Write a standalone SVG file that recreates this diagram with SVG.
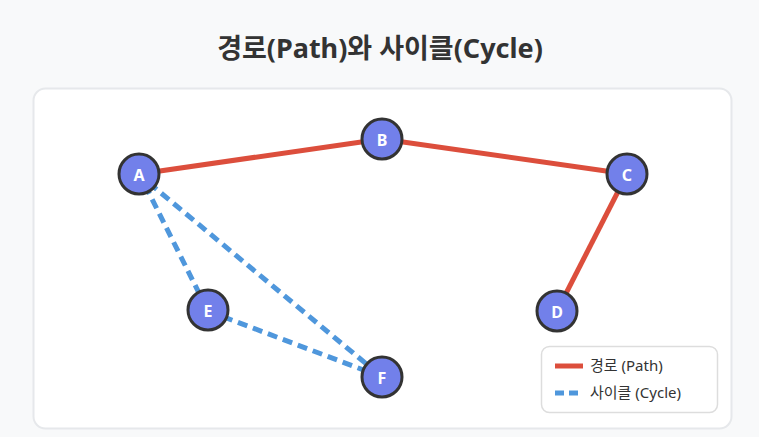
<svg xmlns="http://www.w3.org/2000/svg" width="759" height="437" viewBox="0 0 759 437">
<style>
.path{stroke:#dc4e3c;stroke-width:5;stroke-linecap:butt;fill:none}
.cyc{stroke:#4f97dc;stroke-width:5;stroke-dasharray:10 6;fill:none}
.node circle{fill:#7280ea;stroke:#333;stroke-width:3}
.node text{fill:#fff;font-family:"Noto Sans","Open Sans",sans-serif;font-weight:bold;font-size:16px;text-anchor:middle;dominant-baseline:central}
.lg{font-family:"Noto Sans","Noto Sans CJK KR",sans-serif;font-size:15px;fill:#333}
</style>
<rect width="759" height="437" fill="#f8f9fa"/>
<text x="380" y="58" text-anchor="middle" font-family="'Noto Sans','Noto Sans CJK KR',sans-serif" font-weight="bold" font-size="27" fill="#333">경로(Path)와 사이클(Cycle)</text>
<rect x="33.5" y="88.5" width="698" height="340" rx="12" fill="#fff" stroke="#e6e8eb" stroke-width="2"/>
<g id="connectors">
<line class="path" x1="139" y1="174" x2="382" y2="139"/>
<line class="path" x1="382" y1="139" x2="627" y2="174"/>
<line class="path" x1="627" y1="174" x2="557" y2="311"/>
<line class="cyc" x1="145" y1="185" x2="208" y2="311"/>
<line class="cyc" x1="149" y1="183" x2="382" y2="377"/>
<line class="cyc" x1="208" y1="311" x2="382" y2="377"/>
</g>
<g id="A" class="node"><circle cx="139" cy="174" r="20"/><text x="139" y="175">A</text></g>
<g id="B" class="node"><circle cx="382" cy="139" r="20"/><text x="382" y="140">B</text></g>
<g id="C" class="node"><circle cx="627" cy="174" r="20"/><text x="627" y="175">C</text></g>
<g id="D" class="node"><circle cx="557" cy="311" r="20"/><text x="557" y="312">D</text></g>
<g id="E" class="node"><circle cx="208" cy="310" r="20"/><text x="208" y="311">E</text></g>
<g id="F" class="node"><circle cx="382" cy="377" r="20"/><text x="382" y="378">F</text></g>
<g id="legend">
<rect x="541.5" y="346.5" width="176" height="66" rx="8" fill="#fff" stroke="#ddd" stroke-width="1.5"/>
<line class="path" x1="555" y1="366" x2="583" y2="366"/>
<line class="cyc" x1="555" y1="393" x2="583" y2="393" style="stroke-dasharray:9 5"/>
<text class="lg" x="590" y="371">경로 (Path)</text>
<text class="lg" x="590" y="398">사이클 (Cycle)</text>
</g>
</svg>
